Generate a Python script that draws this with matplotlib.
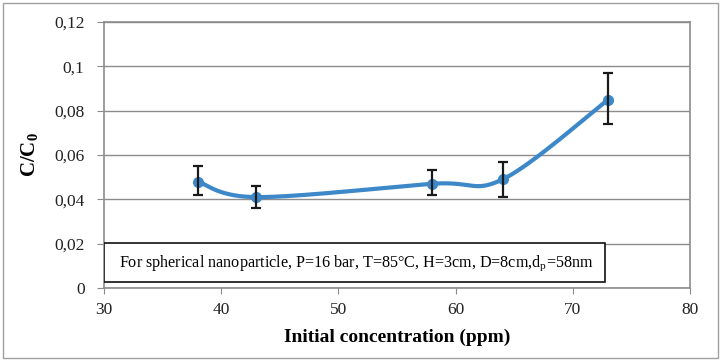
import numpy as np
import matplotlib.pyplot as plt
from matplotlib.patches import Rectangle

plt.rcParams['font.family'] = ['Liberation Serif', 'DejaVu Serif']
plt.rcParams['mathtext.fontset'] = 'custom'
plt.rcParams['mathtext.rm'] = 'Liberation Serif'
plt.rcParams['mathtext.bf'] = 'Liberation Serif:bold'

# data
conc = [38, 43, 58, 64, 73]
ratio = [0.048, 0.041, 0.047, 0.049, 0.085]
err_low = [0.042, 0.036, 0.042, 0.041, 0.074]
err_high = [0.055, 0.046, 0.053, 0.057, 0.097]
xticks = [30, 40, 50, 60, 70, 80]
yticks = [0, 0.02, 0.04, 0.06, 0.08, 0.1, 0.12]
ytick_labels = ['0', '0,02', '0,04', '0,06', '0,08', '0,1', '0,12']


def smooth(x, y, n=40):
    # Excel-style smoothed line (cubic bezier, control points at 1/6 of neighbour span)
    x = np.asarray(x, float)
    y = np.asarray(y, float)
    px = np.concatenate([[x[0]], x, [x[-1]]])
    py = np.concatenate([[y[0]], y, [y[-1]]])
    xs, ys = [], []
    t = np.linspace(0, 1, n)
    for i in range(len(x) - 1):
        p0 = np.array([px[i + 1], py[i + 1]])
        p3 = np.array([px[i + 2], py[i + 2]])
        c1 = p0 + (np.array([px[i + 2], py[i + 2]]) - np.array([px[i], py[i]])) / 6
        c2 = p3 - (np.array([px[i + 3], py[i + 3]]) - np.array([px[i + 1], py[i + 1]])) / 6
        b = ((1 - t) ** 3)[:, None] * p0 + (3 * (1 - t) ** 2 * t)[:, None] * c1 \
            + (3 * (1 - t) * t ** 2)[:, None] * c2 + (t ** 3)[:, None] * p3
        xs.extend(b[:, 0])
        ys.extend(b[:, 1])
    return xs, ys


fig = plt.figure(figsize=(7.22, 3.6), dpi=100)
fig.patches.append(Rectangle((0.004, 0.006), 0.99, 0.986, transform=fig.transFigure,
                             fill=False, edgecolor='#a0a0a0', linewidth=1))
ax = fig.add_axes([0.144, 0.2, 0.812, 0.739])

blue = '#3d88c9'
sx, sy = smooth(conc, ratio)
ax.plot(sx, sy, color=blue, linewidth=3, solid_capstyle='round', zorder=3)
ax.plot(conc, ratio, 'o', color=blue, markersize=7, zorder=4)
yerr = [np.array(ratio) - np.array(err_low), np.array(err_high) - np.array(ratio)]
ax.errorbar(conc, ratio, yerr=yerr, fmt='none', ecolor='#1a1a1a', elinewidth=1.6,
            capsize=3.5, capthick=1.6, zorder=5)

ax.set_xlim(30, 80)
ax.set_ylim(0, 0.12)
ax.set_xticks(xticks)
ax.set_yticks(yticks)
ax.set_yticklabels(ytick_labels)
ax.tick_params(axis='both', labelsize=12.5, colors='#8c8c8c', labelcolor='#222222', length=4)
ax.tick_params(axis='y', length=5, pad=9)
ax.tick_params(axis='x', pad=6)
ax.grid(axis='y', color='#8c8c8c', linewidth=1)
ax.set_axisbelow(True)
for side in ['top', 'right', 'left', 'bottom']:
    ax.spines[side].set_color('#8c8c8c')
    ax.spines[side].set_linewidth(1.2)

ax.set_xlabel('Initial concentration (ppm)', fontsize=14, fontweight='bold', labelpad=8)
ax.set_ylabel(r'$\mathbf{C/C_0}$', fontsize=15, labelpad=10)

ax.add_patch(Rectangle((0.0, 0.022), 0.855, 0.147, transform=ax.transAxes,
                       facecolor='white', edgecolor='#111111', linewidth=1.2, zorder=6))
ax.text(0.025, 0.095, r'For spherical nanoparticle, P=16 bar, T=85°C, H=3cm, D=8cm,d$_\mathrm{p}$=58nm',
        transform=ax.transAxes, fontsize=11.6, va='center', ha='left', zorder=7)

fig.savefig('out.png', dpi=100)
